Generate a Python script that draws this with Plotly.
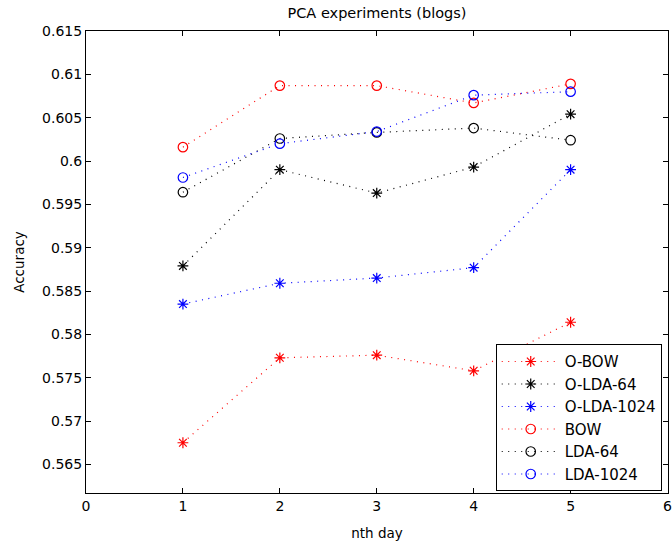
import plotly.graph_objects as go

days = [1, 2, 3, 4, 5]
o_bow = [0.5675, 0.5773, 0.5776, 0.5758, 0.5814]
o_lda_64 = [0.5879, 0.5990, 0.5963, 0.5993, 0.6054]
o_lda_1024 = [0.5835, 0.5859, 0.5865, 0.5877, 0.5990]
bow = [0.6016, 0.6087, 0.6087, 0.6067, 0.6089]
lda_64 = [0.5964, 0.6026, 0.6033, 0.6038, 0.6024]
lda_1024 = [0.5981, 0.6020, 0.6034, 0.6076, 0.6080]

series = [
    ("O-BOW", o_bow, "#ff0000", "asterisk-open"),
    ("O-LDA-64", o_lda_64, "#000000", "asterisk-open"),
    ("O-LDA-1024", o_lda_1024, "#0000ff", "asterisk-open"),
    ("BOW", bow, "#ff0000", "circle-open"),
    ("LDA-64", lda_64, "#000000", "circle-open"),
    ("LDA-1024", lda_1024, "#0000ff", "circle-open"),
]

FONT = "DejaVu Sans, sans-serif"

fig = go.Figure()
for name, vals, color, sym in series:
    fig.add_trace(go.Scatter(
        x=days, y=vals, name=name, mode="lines+markers",
        line=dict(color=color, width=1.2, dash="1px,5.5px"),
        marker=dict(symbol=sym, size=9 if sym.startswith("asterisk") else 9.5,
                    color=color, line=dict(color=color, width=1.2)),
    ))

fig.update_layout(
    width=672, height=546,
    margin=dict(l=86, r=0, t=31, b=53),
    paper_bgcolor="white", plot_bgcolor="white",
    font=dict(family=FONT, size=14, color="black"),
    title=dict(text="PCA experiments (blogs)", x=0.5, xref="paper",
               y=1 - 13 / 546, yanchor="middle", font=dict(size=14.5)),
    showlegend=True,
    legend=dict(x=0.704, y=0.322, xanchor="left", yanchor="top",
                bgcolor="white", bordercolor="black", borderwidth=1,
                font=dict(size=15), itemwidth=58, tracegroupgap=0),
)
fig.update_xaxes(
    range=[0, 6.005], tickvals=[0, 1, 2, 3, 4, 5, 6],
    ticks="inside", ticklen=5, tickcolor="black", tickwidth=1,
    ticklabeloverflow="allow", tickfont=dict(size=14),
    showline=True, linecolor="black", linewidth=1, mirror="ticks",
    showgrid=False, zeroline=False,
    title=dict(text="nth day", standoff=15, font=dict(size=13.5)),
)
fig.update_yaxes(
    range=[0.5617, 0.615],
    tickvals=[0.565, 0.57, 0.575, 0.58, 0.585, 0.59, 0.595, 0.6, 0.605, 0.61, 0.615],
    ticktext=["0.565", "0.57", "0.575", "0.58", "0.585", "0.59", "0.595", "0.6", "0.605", "0.61", "0.615"],
    ticks="inside", ticklen=5, tickcolor="black", tickwidth=1,
    tickfont=dict(size=14),
    showline=True, linecolor="black", linewidth=1, mirror="ticks",
    showgrid=False, zeroline=False,
    title=dict(text="Accuracy", standoff=14, font=dict(size=13.5)),
)

fig.write_html("out.html")
